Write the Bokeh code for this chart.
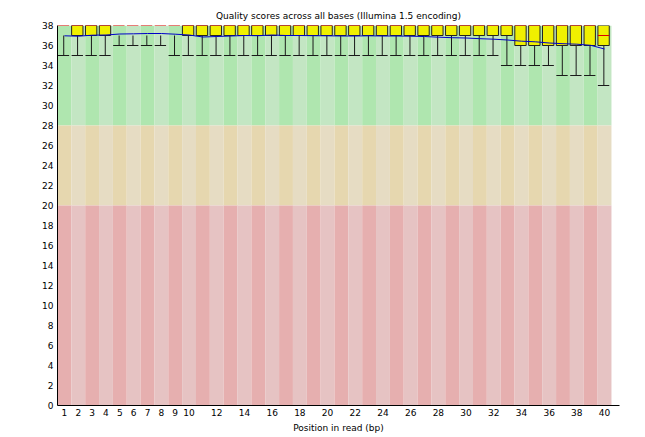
from bokeh.plotting import figure
from bokeh.models import FixedTicker, Range1d
from bokeh.embed import file_html
from bokeh.resources import INLINE

# ---- data ----
positions = [1, 2, 3, 4, 5, 6, 7, 8, 9, 10, 11, 12, 13, 14, 15, 16, 17, 18, 19, 20,
             21, 22, 23, 24, 25, 26, 27, 28, 29, 30, 31, 32, 33, 34, 35, 36, 37, 38, 39, 40]
median = [38, 38, 38, 38, 38, 38, 38, 38, 38, 38, 38, 38, 38, 38, 38, 38, 38, 38, 38, 38,
          38, 38, 38, 38, 38, 38, 38, 38, 38, 38, 38, 38, 38, 38, 38, 38, 38, 38, 38, 37]
upper_quartile = [38, 38, 38, 38, 38, 38, 38, 38, 38, 38, 38, 38, 38, 38, 38, 38, 38, 38, 38, 38,
                  38, 38, 38, 38, 38, 38, 38, 38, 38, 38, 38, 38, 38, 38, 38, 38, 38, 38, 38, 38]
lower_quartile = [38, 37, 37, 37, 38, 38, 38, 38, 38, 37, 37, 37, 37, 37, 37, 37, 37, 37, 37, 37,
                  37, 37, 37, 37, 37, 37, 37, 37, 37, 37, 37, 37, 37, 36, 36, 36, 36, 36, 36, 36]
whisker_top = [37, 37, 37, 37, 37, 37, 37, 37, 37, 37, 37, 37, 37, 37, 37, 37, 37, 37, 37, 37,
               37, 37, 37, 37, 37, 37, 37, 37, 37, 37, 37, 37, 37, 36, 36, 36, 36, 36, 36, 36]
percentile_10 = [35, 35, 35, 35, 36, 36, 36, 36, 35, 35, 35, 35, 35, 35, 35, 35, 35, 35, 35, 35,
                 35, 35, 35, 35, 35, 35, 35, 35, 35, 35, 35, 35, 34, 34, 34, 34, 33, 33, 33, 32]
mean = [36.97, 36.93, 37.03, 37.05, 37.15, 37.17, 37.2, 37.2, 37.13, 37.05,
        36.85, 36.9, 36.95, 37.0, 36.98, 37.05, 37.0, 37.0, 36.98, 36.97,
        36.95, 36.95, 36.97, 36.95, 36.95, 36.93, 36.9, 36.83, 36.78, 36.75,
        36.68, 36.63, 36.55, 36.43, 36.37, 36.25, 36.18, 36.13, 36.02, 35.65]

zone_bottom = [28, 20, 0]
zone_top = [38, 28, 20]
zone_dark = ["#afe6af", "#e6d7af", "#e6afaf"]
zone_light = ["#c3e6c3", "#e6dcc3", "#e6c3c3"]

x_ticks = [1, 2, 3, 4, 5, 6, 7, 8, 9, 10, 12, 14, 16, 18, 20, 22, 24, 26, 28, 30,
           32, 34, 36, 38, 40]
y_ticks = [0, 2, 4, 6, 8, 10, 12, 14, 16, 18, 20, 22, 24, 26, 28, 30, 32, 34, 36, 38]

TITLE = "Quality scores across all bases (Illumina 1.5 encoding)"
XLABEL = "Position in read (bp)"
FONT = "DejaVu Sans"
FS = "9px"

# ---- figure ----
p = figure(width=645, height=437,
           x_range=Range1d(0.5, 41.08), y_range=Range1d(0, 38),
           output_backend="svg", toolbar_location=None,
           min_border_left=57, min_border_right=26, min_border_top=25,
           min_border_bottom=32, title=TITLE)
p.background_fill_color = "white"
p.border_fill_color = "white"
p.outline_line_color = None
p.grid.visible = False

p.title.align = "center"
p.title.text_font = FONT
p.title.text_font_size = FS
p.title.text_font_style = "normal"
p.title.text_color = "black"

# background bands
bl, br, bb, bt, bc = [], [], [], [], []
for zi in range(len(zone_bottom)):
    for i in positions:
        bl.append(i - 0.5)
        br.append(i + 0.5)
        bb.append(zone_bottom[zi])
        bt.append(zone_top[zi])
        bc.append(zone_dark[zi] if i % 2 == 1 else zone_light[zi])
p.quad(left=bl, right=br, bottom=bb, top=bt, fill_color=bc, line_color=None)

BOX_W = 0.82
BOX_SHIFT = -0.07
WH_SHIFT = -0.05

# whiskers
wx = [x + WH_SHIFT for x in positions]
p.segment(x0=wx, y0=percentile_10, x1=wx, y1=whisker_top, line_color="#1a1a1a", line_width=1)
p.segment(x0=[x + BOX_SHIFT - BOX_W / 2 for x in positions], y0=percentile_10,
          x1=[x + BOX_SHIFT + BOX_W / 2 for x in positions], y1=percentile_10,
          line_color="#1a1a1a", line_width=1)

# boxes (only where quartiles differ)
bx, btop, bbot = [], [], []
for x, t, b in zip(positions, upper_quartile, lower_quartile):
    if t > b:
        bx.append(x + BOX_SHIFT)
        btop.append(t)
        bbot.append(b)
p.vbar(x=bx, width=BOX_W, top=btop, bottom=bbot, fill_color="#f0f000", line_color="#222222", line_width=1)

# medians
p.segment(x0=[x + BOX_SHIFT - BOX_W / 2 for x in positions], y0=median,
          x1=[x + BOX_SHIFT + BOX_W / 2 for x in positions], y1=median,
          line_color="#dd0000", line_width=1)

# mean line
p.line(positions, mean, line_color="#0000c8", line_width=1)

# axes
for ax in (p.xaxis[0], p.yaxis[0]):
    ax.axis_line_color = "black"
    ax.major_tick_line_color = None
    ax.minor_tick_line_color = None
    ax.major_tick_out = 0
    ax.major_tick_in = 0
    ax.minor_tick_out = 0
    ax.minor_tick_in = 0
    ax.major_label_text_font = FONT
    ax.major_label_text_font_size = FS
    ax.major_label_text_color = "black"
    ax.axis_label_text_font = FONT
    ax.axis_label_text_font_size = FS
    ax.axis_label_text_font_style = "normal"
    ax.axis_label_text_color = "black"

p.xaxis.ticker = FixedTicker(ticks=x_ticks)
p.yaxis.ticker = FixedTicker(ticks=y_ticks)
p.xaxis.axis_label = XLABEL
p.xaxis.major_label_standoff = 3
p.xaxis.axis_label_standoff = 4
p.yaxis.major_label_standoff = 4

open("out.html", "w").write(file_html(p, INLINE))
